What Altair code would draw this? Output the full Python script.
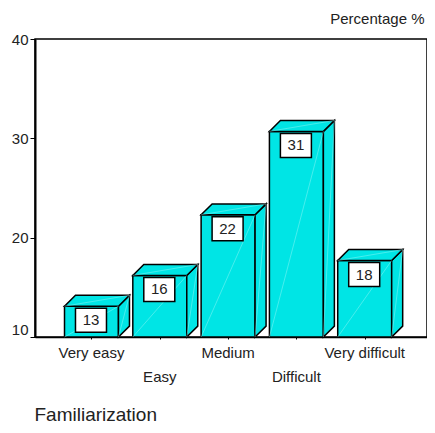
import altair as alt
import pandas as pd

categories = ["Very easy", "Easy", "Medium", "Difficult", "Very difficult"]
labels = [13, 16, 22, 31, 18]
values = [13.1, 16.2, 22.3, 30.7, 17.7]
label_row = [0, 1, 0, 1, 0]
y_ticks = [10, 20, 30, 40]

BASE = 10
HALF = 0.395
DX = 0.161
DY = 1.1
CYAN = "#00E5E5"
FONT = "Liberation Sans"
FS = 15

front, side, top, shine = [], [], [], []
for i, v in enumerate(values):
    l, r = i - HALF, i + HALF
    front.append(dict(bar=i, l=l, r=r, v=v, base=BASE))
    side += [dict(bar=i, x=r, y=BASE, y2=v), dict(bar=i, x=r + DX, y=BASE + DY, y2=v + DY)]
    top += [dict(bar=i, x=l, y=v, y2=v), dict(bar=i, x=l + DX, y=v, y2=v + DY),
            dict(bar=i, x=r, y=v, y2=v + DY), dict(bar=i, x=r + DX, y=v + DY, y2=v + DY)]
    shine += [dict(bar=f"f{i}", x=l, y=BASE), dict(bar=f"f{i}", x=r, y=v),
              dict(bar=f"s{i}", x=r, y=BASE), dict(bar=f"s{i}", x=r + DX, y=v + DY),
              dict(bar=f"t{i}", x=l, y=v), dict(bar=f"t{i}", x=r + DX, y=v + DY)]

xs = alt.Scale(domain=[-0.827, 4.912], nice=False, zero=False)
ys = alt.Scale(domain=[10, 40], nice=False, zero=False)

xaxis = alt.Axis(values=list(range(5)), labels=False, tickSize=2, tickColor="black",
                 domainColor="black", domainWidth=1.5, grid=False,
                 title="Familiarization", titleFont=FONT, titleFontSize=19,
                 titleFontWeight="normal", titleColor="#222222", titleAnchor="start",
                 titleAlign="left", titleX=-1, titleY=83, titleBaseline="alphabetic")
yaxis = alt.Axis(values=y_ticks, tickSize=5, tickColor="black", tickWidth=1, domainColor="black",
                 domainWidth=2, grid=False, labelFont=FONT, labelFontSize=FS, labelColor="#222222",
                 labelPadding=2,
                 labelBaseline={"condition": {"test": "datum.value == 10", "value": "bottom"},
                                "value": "middle"},
                 title="Percentage %", titleFont=FONT, titleFontSize=15, titleFontWeight="normal",
                 titleColor="#222222", titleAngle=0, titleAlign="right", titleBaseline="middle",
                 titleX=389, titleY=-21)

df_front = pd.DataFrame(front)
df_front["label"] = labels

bars = alt.Chart(df_front).mark_rect(color=CYAN, stroke="black", strokeWidth=1.5).encode(
    x=alt.X("l:Q", scale=xs, axis=xaxis), x2="r:Q",
    y=alt.Y("base:Q", scale=ys, axis=yaxis), y2="v:Q")

def face(rows):
    return alt.Chart(pd.DataFrame(rows)).mark_area(
        color=CYAN, stroke="black", strokeWidth=1.5, interpolate="linear").encode(
        x=alt.X("x:Q", scale=xs), y=alt.Y("y:Q", scale=ys), y2="y2:Q", detail="bar:N")

shine_l = alt.Chart(pd.DataFrame(shine)).mark_line(color="#AAF8F8", strokeWidth=0.6, opacity=0.7).encode(
    x=alt.X("x:Q", scale=xs), y=alt.Y("y:Q", scale=ys), detail="bar:N")

box = alt.Chart(df_front).transform_calculate(c="(datum.l+datum.r)/2").mark_rect(
    width=31, height=24, color="white", stroke="black", strokeWidth=1.5, yOffset=14, xOffset=-0.5).encode(
    x=alt.X("c:Q", scale=xs), y=alt.Y("v:Q", scale=ys))
box_t = alt.Chart(df_front).transform_calculate(c="(datum.l+datum.r)/2").mark_text(
    font=FONT, fontSize=FS, color="#222222", dy=14, dx=-0.5).encode(
    x=alt.X("c:Q", scale=xs), y=alt.Y("v:Q", scale=ys), text="label:N")

df_cat = pd.DataFrame(dict(i=range(5), cat=categories, row=label_row, y=[BASE] * 5))
cat0 = alt.Chart(df_cat[df_cat.row == 0]).mark_text(
    font=FONT, fontSize=FS, color="#222222", dy=16).encode(
    x=alt.X("i:Q", scale=xs), y=alt.Y("y:Q", scale=ys), text="cat:N")
cat1 = alt.Chart(df_cat[df_cat.row == 1]).mark_text(
    font=FONT, fontSize=FS, color="#222222", dy=40).encode(
    x=alt.X("i:Q", scale=xs), y=alt.Y("y:Q", scale=ys), text="cat:N")

chart = alt.layer(bars, face(side), face(top), shine_l, box, box_t, cat0, cat1).properties(
    width=392, height=298, background="white",
    autosize=alt.AutoSizeParams(type="none"),
    padding={"left": 27, "top": 31, "right": 0, "bottom": 88},
).configure_view(stroke="black", strokeWidth=1.5)

chart.save("out.html", embed_options={"renderer": "svg", "actions": False})
